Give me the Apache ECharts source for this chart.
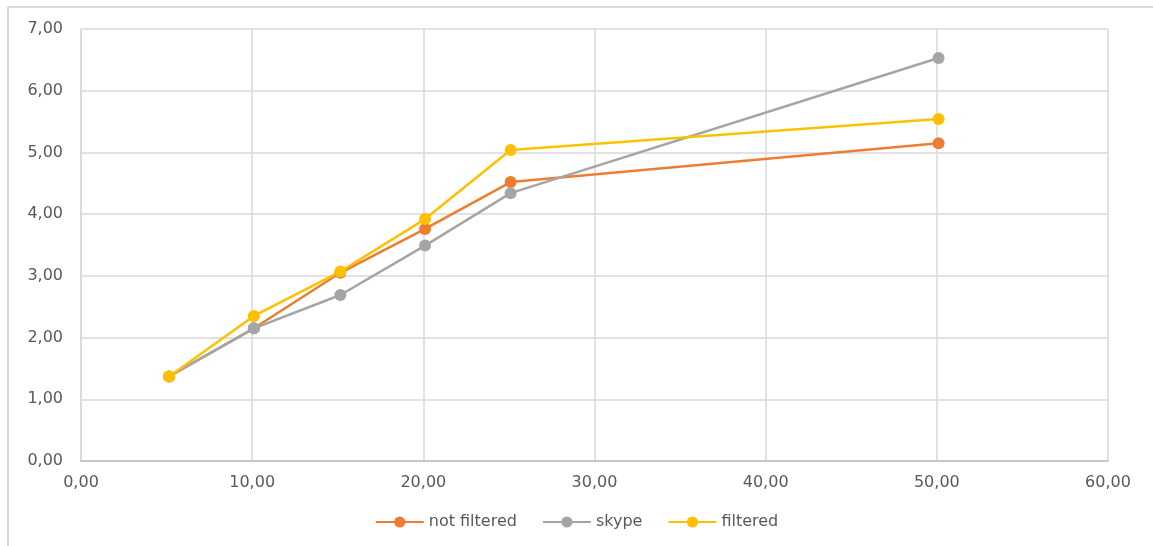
<!DOCTYPE html>
<html>
<head>
<meta charset="utf-8">
<script src="https://cdn.jsdelivr.net/npm/echarts@6/dist/echarts.min.js"></script>
<style>
  html, body { margin: 0; padding: 0; background: #fff; }
  #chart { width: 1153px; height: 546px; }
</style>
</head>
<body>
<div id="chart"></div>
<script>
// Measurement points (x) and the three series values
const xValues = [5.15, 10.1, 15.15, 20.1, 25.1, 50.1];
const notFiltered = [1.37, 2.15, 3.05, 3.76, 4.52, 5.15];
const skype = [1.37, 2.15, 2.69, 3.49, 4.34, 6.53];
const filtered = [1.37, 2.35, 3.07, 3.92, 5.04, 5.54];
const seriesNames = ['not filtered', 'skype', 'filtered'];
const seriesColors = ['#ED7D31', '#A5A5A5', '#FFC000'];

const fmt = v => v.toFixed(2).replace('.', ',');
const pairs = ys => xValues.map((x, i) => [x, ys[i]]);

const textStyle = { color: '#595959', fontFamily: 'DejaVu Sans', fontSize: 16 };
const gridLine = { show: true, lineStyle: { color: '#D9D9D9', width: 1.5 } };

const chart = echarts.init(document.getElementById('chart'), null, { renderer: 'canvas' });
chart.setOption({
  animation: false,
  backgroundColor: '#fff',
  graphic: [
    { type: 'line', shape: { x1: 8, y1: 7, x2: 1153, y2: 7 }, style: { stroke: '#D9D9D9', lineWidth: 2 } },
    { type: 'line', shape: { x1: 8, y1: 7, x2: 8, y2: 546 }, style: { stroke: '#D9D9D9', lineWidth: 2 } }
  ],
  grid: { left: 81, right: 45, top: 29, bottom: 85, containLabel: false },
  legend: {
    bottom: 11,
    left: 'center',
    itemWidth: 48,
    itemHeight: 14,
    itemGap: 25,
    textStyle: textStyle,
    data: seriesNames
  },
  xAxis: {
    type: 'value',
    min: 0, max: 60, interval: 10,
    axisLine: { show: true, lineStyle: { color: '#BFBFBF', width: 1.5 } },
    axisTick: { show: false },
    splitLine: gridLine,
    axisLabel: { ...textStyle, margin: 14, formatter: fmt }
  },
  yAxis: {
    type: 'value',
    min: 0, max: 7, interval: 1,
    axisLine: { show: true, lineStyle: { color: '#D9D9D9', width: 1.5 } },
    axisTick: { show: false },
    splitLine: gridLine,
    axisLabel: { ...textStyle, margin: 18, formatter: fmt }
  },
  series: [notFiltered, skype, filtered].map((ys, i) => ({
    name: seriesNames[i],
    type: 'line',
    data: pairs(ys),
    color: seriesColors[i],
    symbol: 'circle',
    symbolSize: 12,
    lineStyle: { width: 2.5 },
    itemStyle: { color: seriesColors[i] }
  }))
});
</script>
</body>
</html>
